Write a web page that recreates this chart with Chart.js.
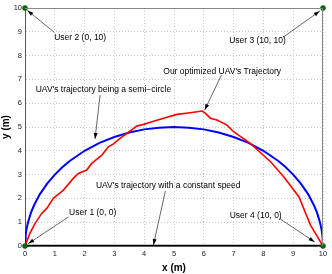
<!DOCTYPE html>
<html>
<head>
<meta charset="utf-8">
<script src="https://cdn.jsdelivr.net/npm/chart.js@4/dist/chart.umd.min.js"></script>
<style>
  html, body { margin: 0; padding: 0; background: #fff; }
  #wrap { width: 332px; height: 274px; }
</style>
</head>
<body>
<div id="wrap"><canvas id="c"></canvas></div>
<script>
// Optimized UAV trajectory (red)
const optX = [0, 0.17, 0.34, 0.56, 0.73, 0.95, 1.29, 1.62, 1.79, 2.07, 2.24, 2.58, 2.8, 2.97, 3.19,
              3.42, 3.75, 3.98, 4.26, 4.65, 5.1, 5.55, 5.94, 6.05, 6.22, 6.44, 6.78, 7.0, 7.56,
              8.24, 8.68, 9.19, 9.58, 10];
const optY = [0, 0.55, 0.95, 1.37, 1.58, 2.0, 2.35, 2.84, 3.05, 3.19, 3.47, 3.82, 4.17, 4.29, 4.52,
              4.73, 5.04, 5.11, 5.22, 5.37, 5.53, 5.6, 5.67, 5.58, 5.37, 5.29, 5.08, 4.8, 4.31,
              3.54, 2.91, 2.07, 0.88, 0];

// Semi-circle trajectory (blue)
const circX = [0, 0.02, 0.05, 0.1, 0.2, 0.3, 0.5, 0.75, 1, 1.25, 1.5, 2, 2.5, 3, 3.5, 4, 4.5, 5,
               5.5, 6, 6.5, 7, 7.5, 8, 8.5, 8.75, 9, 9.25, 9.5, 9.7, 9.8, 9.9, 9.95, 9.98, 10];
const circY = [0, 0.45, 0.7, 0.99, 1.4, 1.7, 2.18, 2.63, 3.0, 3.31, 3.57, 4.0, 4.33, 4.58, 4.77,
               4.9, 4.97, 5.0, 4.97, 4.9, 4.77, 4.58, 4.33, 4.0, 3.57, 3.31, 3.0, 2.63, 2.18, 1.7,
               1.4, 0.99, 0.7, 0.45, 0];

// Constant-speed trajectory (black) and user positions
const lineX  = [0, 10];
const lineY  = [0, 0];
const usersX = [0, 0, 10, 10];
const usersY = [0, 10, 10, 0];

const xTicks = [0, 1, 2, 3, 4, 5, 6, 7, 8, 9, 10];
const yTicks = [0, 1, 2, 3, 4, 5, 6, 7, 8, 9, 10];

const toPts = (xs, ys) => xs.map((x, i) => ({ x, y: ys[i] }));

// Text labels with arrows (data coords)
const notes = [
  { text: 'User 2 (0, 10)',                       at: [0.98, 8.74], from: [0.98, 8.98], to: [0.08, 9.9] },
  { text: 'User 3 (10, 10)',                      at: [6.85, 8.61], from: [8.66, 8.77], to: [9.89, 9.87] },
  { text: "Our optimized UAV's Trajectory",       at: [4.64, 7.33], from: [6.59, 7.18], to: [6.03, 5.71] },
  { text: "UAV's trajectory being a semi\u2212circle", at: [0.36, 6.58], from: [2.52, 6.34], to: [2.35, 4.5] },
  { text: "UAV's trajectory with a constant speed", at: [2.38, 2.53], from: [4.71, 2.31], to: [4.31, 0.04] },
  { text: 'User 1 (0, 0)',                        at: [1.48, 1.4],  from: [1.46, 1.22], to: [0.11, 0.1] },
  { text: 'User 4 (10, 0)',                       at: [6.87, 1.29], from: [8.55, 1.15], to: [9.72, 0.17] },
];

const FONT = '"Liberation Sans", Arial, sans-serif';

const notePlugin = {
  id: 'notes',
  afterDatasetsDraw(chart) {
    const { ctx, scales: { x, y } } = chart;
    ctx.save();
    ctx.font = '8.5px ' + FONT;
    ctx.fillStyle = '#000';
    ctx.strokeStyle = '#000';
    ctx.textBaseline = 'middle';
    ctx.textAlign = 'left';
    notes.forEach(n => {
      ctx.fillText(n.text, x.getPixelForValue(n.at[0]), y.getPixelForValue(n.at[1]));
      const x1 = x.getPixelForValue(n.from[0]), y1 = y.getPixelForValue(n.from[1]);
      const x2 = x.getPixelForValue(n.to[0]),   y2 = y.getPixelForValue(n.to[1]);
      const a = Math.atan2(y2 - y1, x2 - x1);
      ctx.lineWidth = 0.6;
      ctx.beginPath();
      ctx.moveTo(x1, y1);
      ctx.lineTo(x2, y2);
      ctx.stroke();
      const len = 6, w = 2;
      ctx.beginPath();
      ctx.moveTo(x2, y2);
      ctx.lineTo(x2 - len * Math.cos(a) + w * Math.sin(a), y2 - len * Math.sin(a) - w * Math.cos(a));
      ctx.lineTo(x2 - len * Math.cos(a) - w * Math.sin(a), y2 - len * Math.sin(a) + w * Math.cos(a));
      ctx.closePath();
      ctx.fill();
    });
    // box top/right border
    const ca = chart.chartArea;
    ctx.strokeStyle = '#888';
    ctx.lineWidth = 1;
    ctx.beginPath();
    ctx.moveTo(ca.left, ca.top + 0.5);
    ctx.lineTo(ca.right - 0.5, ca.top + 0.5);
    ctx.lineTo(ca.right - 0.5, ca.bottom);
    ctx.stroke();
    ctx.restore();
  }
};

const tickFont = { family: FONT, size: 7.5 };
const titleFont = { family: FONT, size: 10, weight: 'bold' };

new Chart(document.getElementById('c'), {
  type: 'scatter',
  data: {
    datasets: [
      {
        data: toPts(lineX, lineY),
        showLine: true,
        borderColor: '#000',
        borderWidth: 2.5,
        pointRadius: 0,
        order: 3,
      },
      {
        data: toPts(circX, circY),
        showLine: true,
        borderColor: '#0000ff',
        borderWidth: 2,
        pointRadius: 0,
        order: 2,
      },
      {
        data: toPts(optX, optY),
        showLine: true,
        borderColor: '#ff0000',
        borderWidth: 1.6,
        pointRadius: 0,
        order: 1,
      },
      {
        data: toPts(usersX, usersY),
        showLine: false,
        clip: false,
        pointRadius: 2.5,
        pointBackgroundColor: '#007000',
        pointBorderColor: '#003300',
        pointBorderWidth: 0.5,
        order: 0,
      },
    ],
  },
  options: {
    responsive: true,
    maintainAspectRatio: false,
    animation: false,
    layout: { padding: { top: 8, right: 9, left: 0, bottom: 0 } },
    plugins: { legend: { display: false }, tooltip: { enabled: false } },
    scales: {
      x: {
        type: 'linear',
        min: 0, max: 10,
        afterBuildTicks: s => { s.ticks = xTicks.map(v => ({ value: v })); },
        afterFit: s => { s.height = 28; },
        grid: { color: '#bbb', lineWidth: 0.8, drawTicks: false },
        border: { display: true, color: '#555', dash: [1, 2] },
        ticks: { color: '#222', font: tickFont, padding: 3, maxRotation: 0 },
        title: { display: true, text: 'x (m)', color: '#000', padding: { top: 0, bottom: 0 }, font: titleFont },
      },
      y: {
        type: 'linear',
        min: 0, max: 10,
        afterBuildTicks: s => { s.ticks = yTicks.map(v => ({ value: v })); },
        afterFit: s => { s.width = 25; },
        grid: { color: '#bbb', lineWidth: 0.8, drawTicks: false },
        border: { display: true, color: '#555', dash: [1, 2] },
        ticks: { color: '#222', font: tickFont, padding: 3 },
        title: { display: true, text: 'y (m)', color: '#000', padding: { top: 0, bottom: 1 }, font: titleFont },
      },
    },
  },
  plugins: [notePlugin],
});
</script>
</body>
</html>
